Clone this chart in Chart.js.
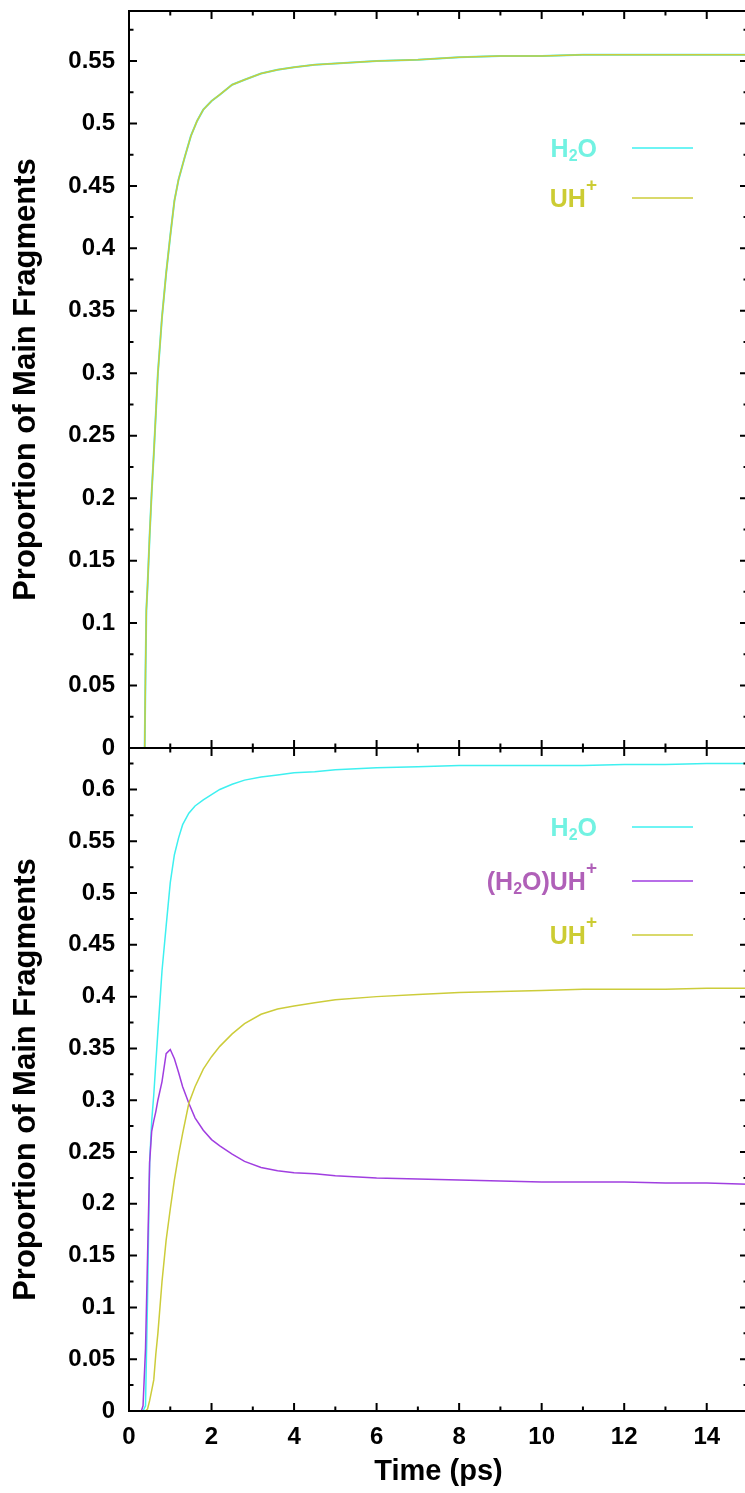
<!DOCTYPE html>
<html>
<head>
<meta charset="utf-8">
<script src="https://cdn.jsdelivr.net/npm/chart.js@4"></script>
<style>
html, body { margin: 0; padding: 0; background: #fff; overflow: hidden; }
#wrap { position: relative; width: 745px; height: 1493px; overflow: hidden; }
canvas { position: absolute; left: 0; }
#topChart { top: -20px; }
#bottomChart { top: 700px; }
</style>
</head>
<body>
<div id="wrap">
  <canvas id="topChart" width="760" height="800"></canvas>
  <canvas id="bottomChart" width="760" height="793"></canvas>
</div>
<script>
// top panel (time in ps, proportion)
const topTime = [0, 0.3, 0.38, 0.4, 0.42, 0.45, 0.5, 0.55, 0.6, 0.7, 0.8, 0.9, 1.0, 1.1, 1.2, 1.35, 1.5, 1.65, 1.8, 2.0, 2.2, 2.5, 2.8, 3.2, 3.6, 4, 4.5, 5, 6, 7, 8, 9, 10, 11, 12, 13, 14, 15];
const topH2O = [0, 0, 0, 0.06, 0.11, 0.13, 0.17, 0.205, 0.235, 0.3, 0.345, 0.38, 0.41, 0.438, 0.455, 0.473, 0.49, 0.502, 0.511, 0.518, 0.523, 0.531, 0.535, 0.54, 0.543, 0.545, 0.547, 0.548, 0.55, 0.551, 0.553, 0.554, 0.554, 0.555, 0.555, 0.555, 0.555, 0.555];
const topUH = [0, 0, 0, 0.06, 0.11, 0.13, 0.17, 0.205, 0.235, 0.3, 0.345, 0.38, 0.41, 0.438, 0.455, 0.473, 0.49, 0.502, 0.511, 0.518, 0.523, 0.531, 0.535, 0.54, 0.543, 0.545, 0.547, 0.548, 0.55, 0.551, 0.553, 0.554, 0.554, 0.555, 0.555, 0.555, 0.555, 0.555];

// bottom panel
const bottomTime = [0, 0.3, 0.34, 0.4, 0.45, 0.5, 0.55, 0.6, 0.65, 0.7, 0.8, 0.9, 1.0, 1.1, 1.2, 1.3, 1.45, 1.6, 1.8, 2.0, 2.2, 2.5, 2.8, 3.2, 3.6, 4, 4.5, 5, 6, 7, 8, 9, 10, 11, 12, 13, 14, 15];
const bottomH2O = [0, 0, 0, 0.005, 0.11, 0.24, 0.28, 0.305, 0.336, 0.366, 0.425, 0.468, 0.51, 0.537, 0.553, 0.566, 0.577, 0.584, 0.59, 0.595, 0.6, 0.605, 0.609, 0.612, 0.614, 0.616, 0.617, 0.619, 0.621, 0.622, 0.623, 0.623, 0.623, 0.623, 0.624, 0.624, 0.625, 0.625];
const bottomH2OUH = [0, 0, 0.005, 0.06, 0.15, 0.24, 0.27, 0.28, 0.289, 0.3, 0.318, 0.345, 0.349, 0.34, 0.327, 0.313, 0.297, 0.283, 0.271, 0.262, 0.256, 0.248, 0.241, 0.235, 0.232, 0.23, 0.229, 0.227, 0.225, 0.224, 0.223, 0.222, 0.221, 0.221, 0.221, 0.22, 0.22, 0.219];
const bottomUH = [0, 0, 0, 0, 0.002, 0.01, 0.02, 0.03, 0.055, 0.075, 0.125, 0.165, 0.195, 0.223, 0.247, 0.268, 0.297, 0.313, 0.33, 0.342, 0.352, 0.364, 0.374, 0.383, 0.388, 0.391, 0.394, 0.397, 0.4, 0.402, 0.404, 0.405, 0.406, 0.407, 0.407, 0.407, 0.408, 0.408];

const xTicks = [0, 2, 4, 6, 8, 10, 12, 14];
const yTicksTop = [0, 0.05, 0.1, 0.15, 0.2, 0.25, 0.3, 0.35, 0.4, 0.45, 0.5, 0.55];
const yTicksBottom = [0, 0.05, 0.1, 0.15, 0.2, 0.25, 0.3, 0.35, 0.4, 0.45, 0.5, 0.55, 0.6];

const FONT = '"Liberation Sans", Arial, sans-serif';
const CYAN = "#3ef0f0", PURPLE = "#a03ee0", OLIVE = "#cccc3a";

function pts(xs, ys) {
  return xs.map((x, i) => ({ x: x, y: ys[i] }));
}

// gnuplot style label: _2 = subscript, ^+ = superscript
function parseLabel(s) {
  const out = [];
  for (let i = 0; i < s.length; i++) {
    if ((s[i] === "_" || s[i] === "^") && i + 1 < s.length) {
      out.push({ t: s[i + 1], k: s[i] === "_" ? "sub" : "sup" });
      i++;
    } else {
      out.push({ t: s[i], k: "n" });
    }
  }
  return out;
}

const framePlugin = {
  id: "frame",
  afterDraw(chart) {
    const { ctx, chartArea: a } = chart;
    const x = chart.scales.x, y = chart.scales.y;
    ctx.save();
    ctx.strokeStyle = "#000";
    ctx.lineWidth = 2;
    ctx.beginPath();
    for (let v = 0; v <= x.max + 1e-9; v += 1) {
      const px = x.getPixelForValue(v);
      const len = v % 2 === 0 ? 8 : 4.5;
      ctx.moveTo(px, a.bottom); ctx.lineTo(px, a.bottom - len);
      ctx.moveTo(px, a.top); ctx.lineTo(px, a.top + len);
    }
    for (let k = 0; k * 0.025 <= y.max + 1e-9; k++) {
      const py = y.getPixelForValue(k * 0.025);
      const len = k % 2 === 0 ? 8 : 4.5;
      ctx.moveTo(a.left, py); ctx.lineTo(a.left + len, py);
      ctx.moveTo(a.right, py); ctx.lineTo(a.right - len, py);
    }
    ctx.stroke();
    ctx.strokeRect(a.left, a.top, a.right - a.left, a.bottom - a.top);
    ctx.restore();
  }
};

const legendPlugin = {
  id: "fragLegend",
  afterDraw(chart, args, opts) {
    const ctx = chart.ctx;
    ctx.save();
    chart.data.datasets.forEach((ds, i) => {
      const y = opts.firstY + i * opts.gap;
      ctx.strokeStyle = ds.borderColor;
      ctx.lineWidth = 1.5;
      ctx.beginPath();
      ctx.moveTo(opts.lineFrom, y);
      ctx.lineTo(opts.lineTo, y);
      ctx.stroke();

      const pieces = parseLabel(ds.label);
      const fonts = { n: "bold 25px " + FONT, sub: "bold 16px " + FONT, sup: "bold 19px " + FONT };
      const shift = { n: 0, sub: 4, sup: -16 };
      let w = 0;
      pieces.forEach(p => { ctx.font = fonts[p.k]; p.w = ctx.measureText(p.t).width; w += p.w; });
      let cx = opts.textRight - w;
      ctx.fillStyle = ds.textColor;
      ctx.textBaseline = "alphabetic";
      ctx.textAlign = "left";
      pieces.forEach(p => {
        ctx.font = fonts[p.k];
        ctx.fillText(p.t, cx, y + 9 + shift[p.k]);
        cx += p.w;
      });
    });
    ctx.restore();
  }
};

function makeChart(id, datasets, yMax, yTickVals, showX, pad, legendOpts) {
  return new Chart(document.getElementById(id), {
    type: "line",
    data: { datasets: datasets },
    options: {
      responsive: false,
      animation: false,
      devicePixelRatio: 1,
      events: [],
      layout: { padding: pad },
      elements: { point: { radius: 0 }, line: { tension: 0 } },
      plugins: {
        legend: { display: false },
        tooltip: { enabled: false },
        fragLegend: legendOpts
      },
      scales: {
        x: {
          type: "linear",
          min: 0,
          max: 15,
          display: showX,
          afterBuildTicks: s => { s.ticks = xTicks.map(v => ({ value: v })); },
          afterFit: s => { s.height = showX ? 82 : 0; },
          grid: { display: false, drawTicks: false },
          border: { display: false },
          ticks: { color: "#000", padding: 12, maxRotation: 0, font: { family: FONT, size: 24, weight: "bold" } },
          title: { display: true, text: "Time (ps)", color: "#000", padding: { top: 0, bottom: 4 }, font: { family: FONT, size: 29, weight: "bold" } }
        },
        y: {
          min: 0,
          max: yMax,
          afterBuildTicks: s => { s.ticks = yTickVals.map(v => ({ value: v })); },
          afterFit: s => { s.width = 129; },
          grid: { display: false, drawTicks: false },
          border: { display: false },
          ticks: { color: "#000", padding: 14, callback: v => String(v), font: { family: FONT, size: 24, weight: "bold" } },
          title: { display: true, text: "Proportion of Main Fragments", color: "#000", padding: { top: 8, bottom: 0 }, font: { family: FONT, size: 31, weight: "bold" } }
        }
      }
    },
    plugins: [framePlugin, legendPlugin]
  });
}

makeChart("topChart", [
  { label: "H_2O", data: pts(topTime, topH2O), borderColor: CYAN, textColor: "#72f2e2", borderWidth: 2, order: 2 },
  { label: "UH^+", data: pts(topTime, topUH), borderColor: OLIVE, textColor: "#cccc33", borderWidth: 1.5, order: 0 }
], 0.59, yTicksTop, false, { top: 31, bottom: 32, left: 0, right: 12 },
  { textRight: 597, lineFrom: 632, lineTo: 693, firstY: 168, gap: 50 });

makeChart("bottomChart", [
  { label: "H_2O", data: pts(bottomTime, bottomH2O), borderColor: CYAN, textColor: "#72f2e2", borderWidth: 1.5, order: 2 },
  { label: "(H_2O)UH^+", data: pts(bottomTime, bottomH2OUH), borderColor: PURPLE, textColor: "#b060b8", borderWidth: 1.5, order: 1 },
  { label: "UH^+", data: pts(bottomTime, bottomUH), borderColor: OLIVE, textColor: "#cccc33", borderWidth: 1.5, order: 0 }
], 0.64, yTicksBottom, true, { top: 48, bottom: 0, left: 0, right: 12 },
  { textRight: 597, lineFrom: 632, lineTo: 693, firstY: 127, gap: 54 });
</script>
</body>
</html>
